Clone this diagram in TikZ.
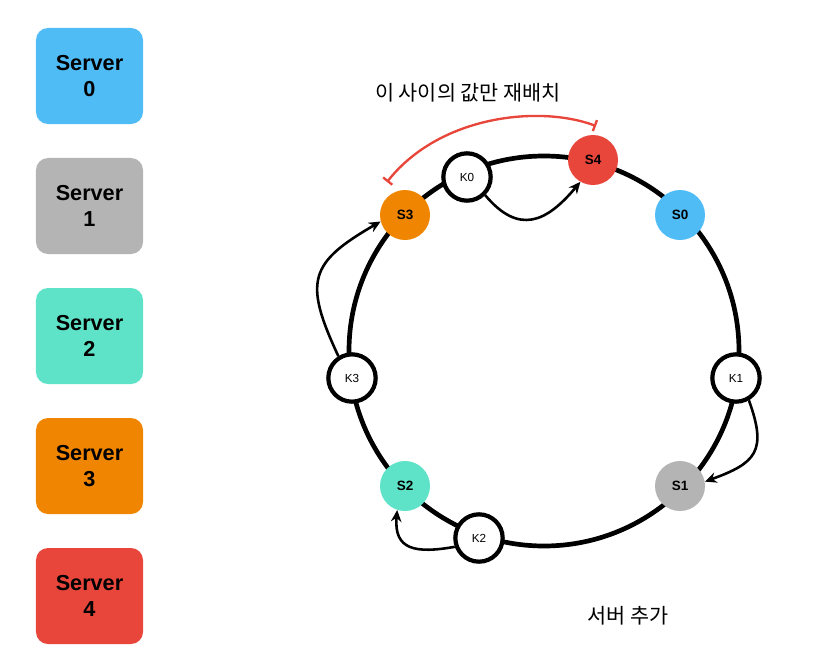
\documentclass[tikz,border=0pt]{standalone}
\usepackage{fontspec}
\setmainfont{Liberation Sans}
\newfontfamily\kr{Noto Sans CJK KR}
\usetikzlibrary{arrows.meta}

\definecolor{serverBlue}{RGB}{79,188,246}
\definecolor{serverGray}{RGB}{180,180,180}
\definecolor{serverTeal}{RGB}{95,227,200}
\definecolor{serverOrange}{RGB}{239,133,0}
\definecolor{serverRed}{RGB}{232,69,59}

\tikzset{
  serverbox/.style={rounded corners=0.36cm, minimum width=3.21cm, minimum height=2.88cm,
    align=center, font=\fontsize{18.5}{22}\selectfont\bfseries},
  snode/.style={circle, minimum size=1.5cm, inner sep=0pt, font=\fontsize{11.5}{13}\selectfont\bfseries},
  knode/.style={circle, draw, fill=white, line width=3.6pt, minimum size=1.42cm, inner sep=0pt,
    font=\fontsize{10}{11}\selectfont},
  ring/.style={line width=4pt},
  move/.style={line width=2.2pt, -{Stealth[length=10pt,width=9pt]}},
}

\begin{document}
\begin{tikzpicture}[x=0.03cm,y=-0.03cm]
  \useasboundingbox (0,0) rectangle (839,671);
  % Servers
  \node[serverbox, fill=serverBlue] (srv0) at (89.5,76) {Server\\0};
  \node[serverbox, fill=serverGray] (srv1) at (89.5,206) {Server\\1};
  \node[serverbox, fill=serverTeal] (srv2) at (89.5,336) {Server\\2};
  \node[serverbox, fill=serverOrange] (srv3) at (89.5,466) {Server\\3};
  \node[serverbox, fill=serverRed] (srv4) at (89.5,596) {Server\\4};
  % Ring
  \draw[ring] (544,351) circle (195);
  \node[snode, fill=serverBlue] (s0) at (680,215) {S0};
  \node[snode, fill=serverGray] (s1) at (680,486) {S1};
  \node[snode, fill=serverTeal] (s2) at (405,486) {S2};
  \node[snode, fill=serverOrange] (s3) at (405,215) {S3};
  \node[snode, fill=serverRed] (s4) at (593,160) {S4};
  \node[knode] (k0) at (467,177) {K0};
  \node[knode] (k1) at (736,378) {K1};
  \node[knode] (k2) at (479,538) {K2};
  \node[knode] (k3) at (352,378) {K3};
  % Keys to servers
  \draw[move] (k0.south east) to[out=-50,in=-130,looseness=1.4] (s4.240);
  \draw[move] (k1.-60) to[out=-70,in=20,looseness=1.5] (s1.10);
  \draw[move] (k2.200) to[out=190,in=-95,looseness=1.5] (s2.252);
  \draw[move] (k3.122) to[out=115,in=210,looseness=1.5] (s3.195);
  % Moved range
  \coordinate (rangeL) at (387,182);
  \coordinate (rangeR) at (596,126);
  \draw[serverRed, line width=2pt, {Bar[width=10pt]}-{Bar[width=10pt]}]
    (rangeL) .. controls (440,115) and (540,105) .. (rangeR);
  \node[font=\kr\fontsize{17.7}{20}\selectfont] (rangelbl) at (468,93) {이 사이의 값만 재배치};
  \node[font=\kr\fontsize{17.7}{20}\selectfont] (addlbl) at (628,616) {서버 추가};
\end{tikzpicture}
\end{document}
